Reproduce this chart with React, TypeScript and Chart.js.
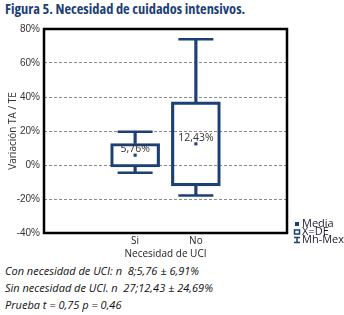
import React, { useEffect, useRef } from "react";
import { Chart, registerables } from "chart.js";

Chart.register(...registerables);

const categories = ["", "Si", "No", ""];
const meanValues = [null, 5.76, 12.43, null];
const sdValues = [null, 6.91, 24.69, null];
const minValues = [null, -4.5, -18.0, null];
const maxValues = [null, 19.5, 74.0, null];
const meanLabels = ["", "5,76%", "12,43%", ""];
const yTicks = [-40, -20, 0, 20, 40, 60, 80];
const legendItems = ["Media", "X=DE", "Mh-Mex"];
const footLines = [
  "Con necesidad de UCI: n  8;5,76 ± 6,91%",
  "Sin necesidad de UCI. n  27;12,43 ± 24,69%",
  "Prueba t = 0,75 p = 0,46",
];

const BLUE = "#1c3f76";
const FONT = "'Open Sans', 'Liberation Sans', sans-serif";
const TICKFONT = "'Liberation Sans', sans-serif";

const boxLow = meanValues.map((m, i) => (m === null ? null : m - (sdValues[i] as number)));
const boxHigh = meanValues.map((m, i) => (m === null ? null : m + (sdValues[i] as number)));

export default function App() {
  const ref = useRef<HTMLCanvasElement | null>(null);

  useEffect(() => {
    if (!ref.current) return;
    const framePlugin = {
      id: "frame",
      afterDraw(chart: any) {
        const { ctx, chartArea } = chart;
        ctx.save();
        ctx.strokeStyle = "#000";
        ctx.lineWidth = 2.5;
        ctx.strokeRect(chartArea.left, chartArea.top, chartArea.right - chartArea.left, chartArea.bottom - chartArea.top);
        // mean labels
        const meta = chart.getDatasetMeta(5);
        ctx.fillStyle = "#333";
        ctx.font = `10.5px ${FONT}`;
        ctx.textAlign = "center";
        ctx.textBaseline = "bottom";
        meta.data.forEach((pt: any, i: number) => {
          if (meanValues[i] === null) return;
          ctx.fillText(meanLabels[i], pt.x, pt.y - 1);
        });
        // legend
        const lx = 294;
        const ys = [224, 232, 240];
        ctx.textAlign = "left";
        ctx.textBaseline = "middle";
        ctx.fillStyle = BLUE;
        ctx.fillRect(lx + 1, ys[0] - 2, 4, 4);
        ctx.strokeStyle = BLUE;
        ctx.lineWidth = 1.5;
        ctx.strokeRect(lx + 0.5, ys[1] - 2, 5, 4);
        ctx.beginPath();
        ctx.moveTo(lx, ys[2] - 2.5);
        ctx.lineTo(lx + 6, ys[2] - 2.5);
        ctx.moveTo(lx, ys[2] + 2.5);
        ctx.lineTo(lx + 6, ys[2] + 2.5);
        ctx.moveTo(lx + 3, ys[2] - 2.5);
        ctx.lineTo(lx + 3, ys[2] + 2.5);
        ctx.stroke();
        ctx.fillStyle = "#1a1a2e";
        ctx.font = `11px ${FONT}`;
        legendItems.forEach((t, i) => ctx.fillText(t, lx + 8, ys[i]));
        ctx.restore();
      },
    };

    const chart = new Chart(ref.current, {
      type: "bar",
      data: {
        labels: categories,
        datasets: [
          {
            type: "bar",
            label: "X=DE",
            data: boxLow.map((l, i) => (l === null ? null : [l, boxHigh[i] as number])) as any,
            backgroundColor: "rgba(0,0,0,0)",
            borderColor: BLUE,
            borderWidth: 2.5,
            borderSkipped: false,
            barThickness: 49,
            grouped: false,
          } as any,
          {
            type: "bar",
            label: "upper",
            data: boxHigh.map((h, i) => (h === null ? null : [h, maxValues[i] as number])) as any,
            backgroundColor: BLUE,
            borderWidth: 0,
            barThickness: 2.5,
            grouped: false,
          } as any,
          {
            type: "bar",
            label: "lower",
            data: boxLow.map((l, i) => (l === null ? null : [minValues[i] as number, l])) as any,
            backgroundColor: BLUE,
            borderWidth: 0,
            barThickness: 2.5,
            grouped: false,
          } as any,
          {
            type: "line",
            label: "Max",
            data: maxValues as any,
            showLine: false,
            pointStyle: "line",
            pointRadius: 17.5,
            pointBorderWidth: 2.5,
            pointBorderColor: BLUE,
            pointHoverRadius: 17.5,
          } as any,
          {
            type: "line",
            label: "Min",
            data: minValues as any,
            showLine: false,
            pointStyle: "line",
            pointRadius: 17.5,
            pointBorderWidth: 2.5,
            pointBorderColor: BLUE,
            pointHoverRadius: 17.5,
          } as any,
          {
            type: "line",
            label: "Media",
            data: meanValues as any,
            showLine: false,
            pointStyle: "rect",
            pointRadius: 2.2,
            pointBackgroundColor: BLUE,
            pointBorderColor: BLUE,
            pointBorderWidth: 0,
          } as any,
        ],
      },
      options: {
        animation: false,
        responsive: false,
        maintainAspectRatio: false,
        layout: { padding: { left: 0, top: 29, right: 57, bottom: 0 } },
        plugins: { legend: { display: false }, tooltip: { enabled: false }, title: { display: false } },
        scales: {
          x: {
            offset: true,
            grid: { display: false, drawTicks: false },
            border: { display: false },
            ticks: { color: "#222", font: { family: FONT, size: 10 }, padding: 2, maxRotation: 0, autoSkip: false },
            title: { display: true, text: "Necesidad de UCI", color: "#222", font: { family: FONT, size: 10 }, padding: { top: 0, bottom: 0 } },
            afterFit(scale: any) {
              scale.height = 27;
            },
          },
          y: {
            min: -40,
            max: 80,
            afterBuildTicks(scale: any) {
              scale.ticks = yTicks.map((v) => ({ value: v }));
            },
            grid: { color: "#8a8a8a", lineWidth: 1, drawTicks: false },
            border: { display: false, dash: [3, 2] },
            ticks: {
              color: "#333",
              font: { family: TICKFONT, size: 10 },
              padding: 4,
              callback: (v: any) => `${v}%`,
            },
            title: { display: true, text: "Variación TA / TE", color: "#333", font: { family: FONT, size: 10 }, padding: { top: 7, bottom: 0 } },
            afterFit(scale: any) {
              scale.width = 44;
            },
          },
        },
      },
      plugins: [framePlugin],
    });
    return () => chart.destroy();
  }, []);

  return (
    <div style={{ position: "absolute", left: 0, top: 0, width: 344, height: 315, background: "#fff" }}>
      <div
        style={{
          position: "absolute",
          left: 5,
          top: 0,
          fontFamily: FONT,
          fontWeight: "bold",
          fontStretch: "75%",
          fontSize: 14.4,
          color: BLUE,
          lineHeight: "17px",
          whiteSpace: "nowrap",
        }}
      >
        Figura 5. Necesidad de cuidados intensivos.
      </div>
      <canvas ref={ref} width={344} height={260} style={{ position: "absolute", left: 0, top: 0 }} />
      <div
        style={{
          position: "absolute",
          left: 5,
          top: 262,
          fontFamily: FONT,
          fontStyle: "italic",
          fontSize: 11,
          lineHeight: "17px",
          color: "#111",
          whiteSpace: "pre",
        }}
      >
        {footLines.map((l, i) => (
          <div key={i}>{l}</div>
        ))}
      </div>
    </div>
  );
}
